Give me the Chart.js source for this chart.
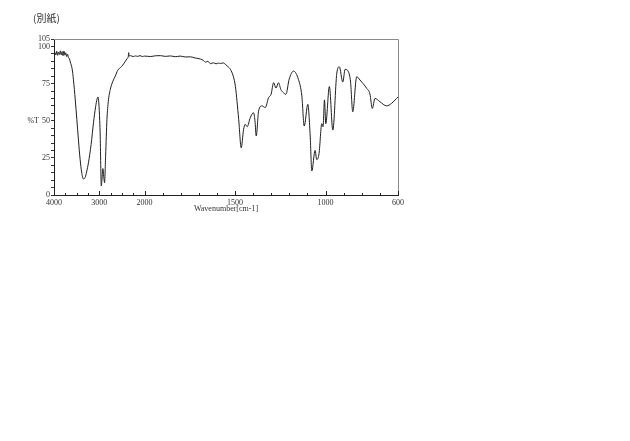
<!DOCTYPE html>
<html>
<head>
<meta charset="utf-8">
<script src="https://cdn.jsdelivr.net/npm/chart.js@4"></script>
<style>
  body { margin: 0; background: #fff; }
  canvas { display: block; }
</style>
</head>
<body>
<canvas id="irChart" width="630" height="441"></canvas>
<script>
// spectrum (wavenumber in cm-1, transmittance in %T)
var wavenumbers = [
  4000, 3980, 3960, 3940, 3920, 3900, 3880, 3860, 3840, 3820,
  3800, 3780, 3760, 3740, 3720, 3700, 3680, 3660, 3640, 3600,
  3570, 3530, 3496, 3460, 3423, 3390, 3350, 3310, 3280, 3239,
  3180, 3128, 3080, 3050, 3030, 3010, 2990, 2979, 2966, 2956,
  2940, 2919, 2900, 2883, 2860, 2830, 2800, 2757, 2700, 2646,
  2590, 2535, 2480, 2424, 2380, 2360, 2350, 2340, 2313, 2250,
  2200, 2150, 2100, 2050, 2000, 1967, 1940, 1912, 1885, 1857,
  1830, 1802, 1775, 1746, 1720, 1691, 1675, 1664, 1650, 1636,
  1620, 1605, 1590, 1581, 1565, 1554, 1540, 1526, 1510, 1498,
  1480, 1466, 1453, 1444, 1433, 1416, 1398, 1390, 1383, 1370,
  1351, 1333, 1315, 1301, 1287, 1274, 1260, 1247, 1234, 1219,
  1201, 1177, 1150, 1131, 1118, 1098, 1085, 1076, 1058, 1049,
  1036, 1021, 1014, 1006, 999, 979, 960, 938, 924, 905,
  892, 874, 862, 850, 828, 810, 793, 773, 755, 742,
  727, 700, 663, 635, 608, 600
];
var transmittance = [
  94.5, 95.8, 94.2, 96.8, 94.0, 96.2, 94.6, 97.0, 94.3, 96.5,
  93.8, 96.9, 94.1, 95.7, 93.2, 94.8, 92.5, 91.8, 89.5, 85.0,
  77.5, 64.0, 51.0, 37.0, 24.0, 15.5, 10.8, 12.0, 15.5, 21.7,
  34.0, 48.6, 59.5, 64.5, 66.0, 62.0, 50.0, 39.7, 18.0, 6.0,
  10.5, 17.8, 12.0, 8.3, 26.0, 51.0, 63.0, 71.0, 76.5, 80.0,
  84.0, 85.7, 87.5, 90.0, 92.0, 93.0, 95.8, 93.5, 93.8, 93.2,
  93.6, 93.3, 93.8, 93.2, 93.5, 93.2, 93.7, 93.8, 93.3, 93.6,
  93.1, 93.5, 92.9, 93.0, 92.2, 91.5, 90.6, 89.4, 90.0, 88.4,
  89.0, 88.3, 88.8, 88.5, 88.9, 88.0, 86.5, 84.6, 80.0, 73.0,
  51.0, 31.8, 44.0, 47.6, 46.0, 52.0, 55.4, 50.0, 39.7, 56.5,
  60.0, 58.8, 65.5, 67.8, 75.6, 72.0, 75.6, 71.0, 69.0, 67.8,
  78.0, 83.4, 77.8, 66.6, 46.4, 61.0, 39.7, 16.2, 30.0, 23.8,
  28.0, 48.0, 46.0, 64.0, 48.0, 73.0, 43.7, 82.0, 86.3, 76.0,
  84.6, 83.0, 76.0, 56.0, 79.6, 77.4, 75.0, 71.8, 68.0, 58.3,
  65.0, 62.8, 60.0, 61.7, 65.0, 66.0
];

var xTickLabels = [4000, 3000, 2000, 1500, 1000, 600];
var yTickLabels = [0, 25, 50, 75, 100, 105];

// the x axis is compressed 4x above 2000 cm-1
function toAxis(w) {
  return w >= 2000 ? (4000 - w) / 4 : 500 + (2000 - w);
}
function fromAxis(p) {
  return p <= 500 ? 4000 - p * 4 : 2000 - (p - 500);
}

var xTicks = [];
for (var w = 4000; w > 2000; w -= 250) xTicks.push(w);
for (var w2 = 2000; w2 >= 600; w2 -= 100) xTicks.push(w2);
var yTicks = [];
for (var t = 0; t <= 105; t += 5) yTicks.push(t);

var points = wavenumbers.map(function (w, i) {
  return { x: toAxis(w), y: transmittance[i] };
});

var labelFont = { family: 'Liberation Serif', size: 8 };

// frame, inward x ticks and the free texts
var decorations = {
  id: 'decorations',
  afterDraw: function (chart) {
    var c = chart.ctx, a = chart.chartArea, xs = chart.scales.x, ys = chart.scales.y;
    c.save();
    c.strokeStyle = '#8a8a8a';
    c.lineWidth = 1;
    c.beginPath();
    c.moveTo(a.left, a.top + 0.5);
    c.lineTo(a.right + 0.5, a.top + 0.5);
    c.lineTo(a.right + 0.5, a.bottom);
    c.stroke();
    c.strokeStyle = '#222';
    c.beginPath();
    xs.ticks.forEach(function (tk) {
      var px = Math.round(xs.getPixelForValue(tk.value)) + 0.5;
      var len = xTickLabels.indexOf(Math.round(fromAxis(tk.value))) >= 0 ? 4 : 2;
      c.moveTo(px, a.bottom);
      c.lineTo(px, a.bottom - len);
    });
    c.stroke();
    c.fillStyle = '#333';
    c.font = '8px "Liberation Serif"';
    c.textAlign = 'right';
    c.textBaseline = 'middle';
    c.fillText('%T', 39, ys.getPixelForValue(50));
    c.font = '10px "Noto Sans CJK JP"';
    c.textAlign = 'left';
    c.fillText('(別紙)', 33, 18);
    c.restore();
  }
};

var ctx = document.getElementById('irChart').getContext('2d');
var irChart = new Chart(ctx, {
  type: 'line',
  data: {
    datasets: [{
      data: points,
      borderColor: '#1e1e1e',
      borderWidth: 1,
      pointRadius: 0,
      cubicInterpolationMode: 'monotone',
      fill: false
    }]
  },
  options: {
    responsive: false,
    animation: false,
    layout: { padding: { left: 0, top: 39, right: 232, bottom: 227 } },
    plugins: { legend: { display: false }, tooltip: { enabled: false } },
    scales: {
      x: {
        type: 'linear',
        min: 0,
        max: 1900,
        afterBuildTicks: function (scale) {
          scale.ticks = xTicks.map(function (w) { return { value: toAxis(w) }; });
        },
        afterFit: function (scale) { scale.height = 19; },
        grid: { drawOnChartArea: false, drawTicks: false },
        border: { color: '#222', width: 1 },
        ticks: {
          autoSkip: false,
          maxRotation: 0,
          padding: 3,
          color: '#333',
          font: labelFont,
          callback: function (v) {
            var w = Math.round(fromAxis(v));
            return xTickLabels.indexOf(w) >= 0 ? String(w) : '';
          }
        },
        title: {
          display: true,
          text: 'Wavenumber[cm-1]',
          color: '#333',
          font: labelFont,
          padding: 0
        }
      },
      y: {
        min: 0,
        max: 105,
        afterBuildTicks: function (scale) {
          scale.ticks = yTicks.map(function (v) { return { value: v }; });
        },
        afterFit: function (scale) { scale.width = 54; },
        grid: { drawOnChartArea: false, tickLength: 3, color: '#333' },
        border: { color: '#222', width: 1 },
        ticks: {
          autoSkip: false,
          padding: 1,
          color: '#333',
          font: labelFont,
          callback: function (v) {
            return yTickLabels.indexOf(v) >= 0 ? String(v) : '';
          }
        }
      }
    }
  },
  plugins: [decorations]
});
</script>
</body>
</html>
